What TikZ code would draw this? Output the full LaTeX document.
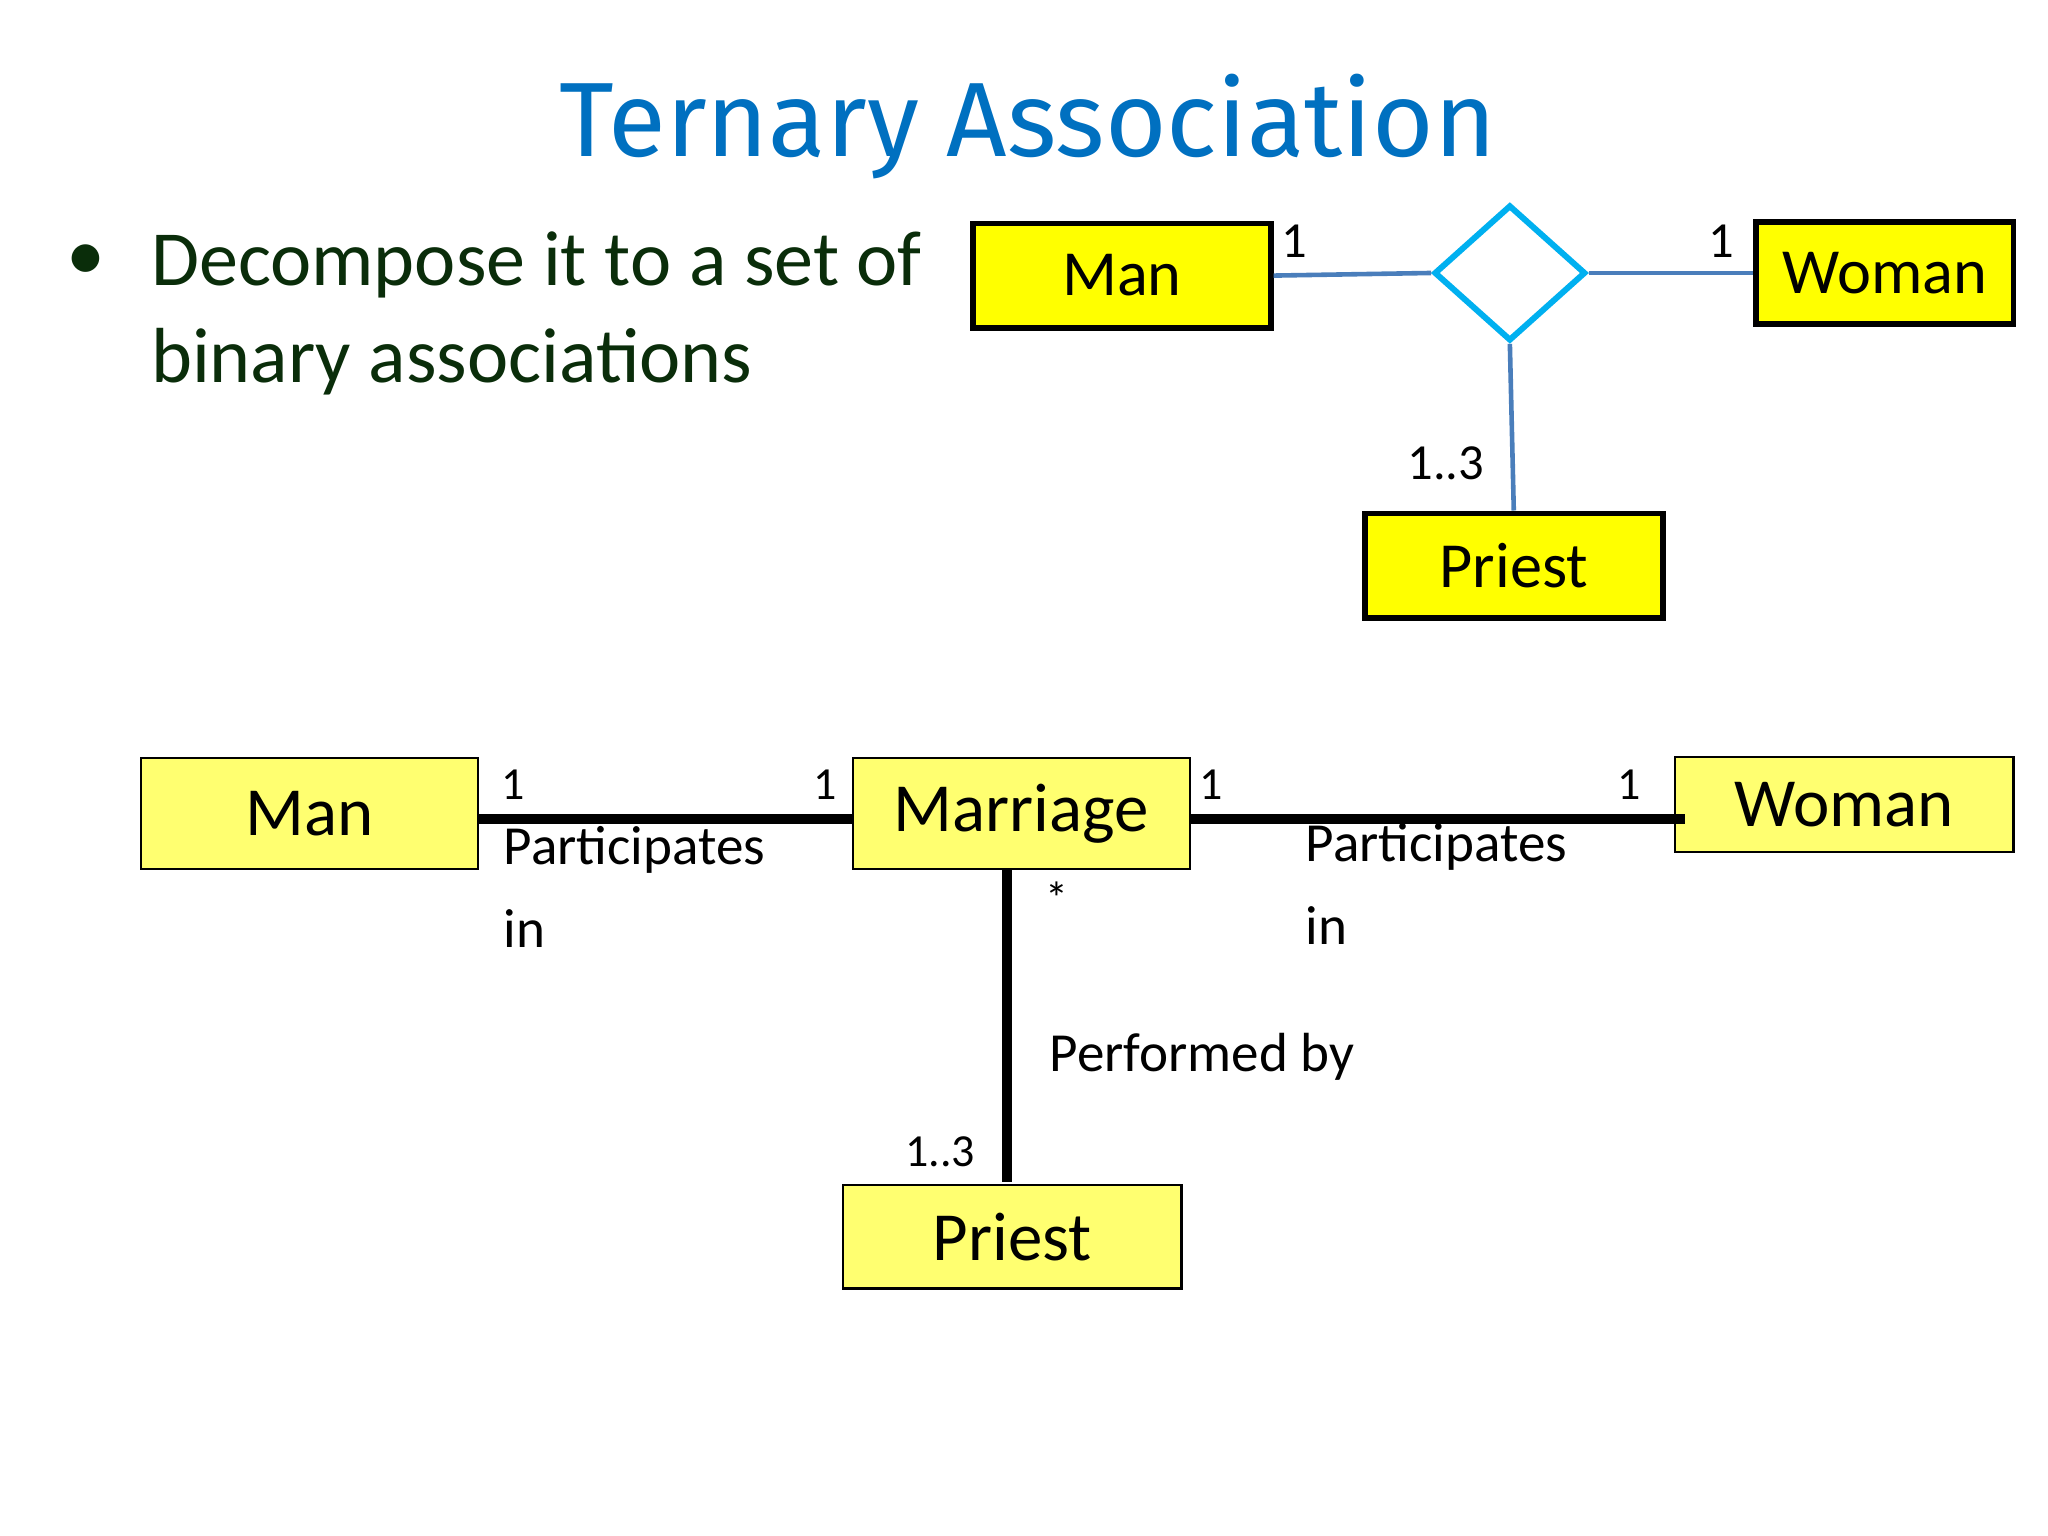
\documentclass[tikz,border=0pt]{standalone}
\usepackage{fontspec}
\setmainfont{Carlito}
\newfontfamily\titlefont{Fira Sans}
\usetikzlibrary{shapes.geometric}
\definecolor{titleblue}{RGB}{0,112,192}
\definecolor{txtgreen}{RGB}{10,45,10}
\definecolor{ybright}{RGB}{255,255,0}
\definecolor{ylight}{RGB}{255,255,112}
\definecolor{steel}{RGB}{74,126,187}
\definecolor{cyanish}{RGB}{0,176,240}
\begin{document}
\begin{tikzpicture}[x=0.01cm,y=-0.01cm,
  topbox/.style={draw=black,line width=1.2pt,fill=ybright,minimum height=0.8cm,inner sep=0pt,font=\fontsize{14}{16}\selectfont},
  botbox/.style={draw=black,line width=0.5pt,fill=ylight,minimum height=0.82cm,inner sep=0pt,font=\fontsize{15}{17}\selectfont},
  lab/.style={font=\fontsize{10}{12}\selectfont,inner sep=0pt},
  desc/.style={font=\fontsize{12}{18}\selectfont,inner sep=0pt,align=left,anchor=north west},
  tline/.style={draw=steel,line width=1pt},
  bline/.style={draw=black,line width=2pt}]
\fill[white] (0,0) rectangle (1568,1176);
\useasboundingbox (0,0) rectangle (1568,1176);
\node[font=\titlefont\fontsize{23}{26}\selectfont,text=titleblue] (title) at (787,97) {Ternary Association};
\node[text=txtgreen,font=\fontsize{17}{20}\selectfont] (bul) at (66,201) {\textbullet};
\node[text=txtgreen,font=\fontsize{17}{21}\selectfont,anchor=west,align=left,inner sep=0pt] (btxt) at (115,240) {Decompose it to a set of\\binary associations};
% top
\node[topbox,minimum width=2.28cm] (man1) at (859,211) {Man};
\node[topbox,minimum width=1.97cm,minimum height=0.78cm] (wom1) at (1443,209) {Woman};
\node[topbox,minimum width=2.28cm] (pri1) at (1159,433) {Priest};
\node[diamond,draw=cyanish,line width=1.3pt,fill=white,minimum width=1.16cm,minimum height=1.04cm,inner sep=0pt,aspect=1.1] (dia) at (1156,209) {};
\draw[tline] (man1.east) -- (dia.west);
\draw[tline] (dia.east) -- (wom1.west);
\draw[tline] (dia.south) -- (pri1.north);
\node[lab,font=\fontsize{11}{12}\selectfont] (l1) at (991,185) {1};
\node[lab,font=\fontsize{11}{12}\selectfont] (l2) at (1318,185) {1};
\node[lab,font=\fontsize{11}{12}\selectfont] (l3) at (1107,355) {1..3};
% bottom
\node[botbox,minimum width=2.58cm,minimum height=0.85cm] (man2) at (237,623) {Man};
\node[botbox,minimum width=2.58cm,minimum height=0.85cm] (mar) at (782,623) {Marriage};
\node[botbox,minimum width=2.59cm,minimum height=0.73cm] (wom2) at (1412,616) {Woman};
\node[botbox,minimum width=2.59cm,minimum height=0.79cm] (pri2) at (775,947) {Priest};
\coordinate (mw) at (911,627);
\coordinate (wm) at (1290,627);
\coordinate (mb) at (771,666);
\coordinate (pt) at (771,905);
\draw[bline] (man2.east |- 0,627) -- (mar.west |- 0,627);
\draw[bline] (mw) -- (wm);
\draw[bline] (mb) -- (pt);
\node[lab] (b1) at (393,601) {1};
\node[lab] (b2) at (632,601) {1};
\node[lab] (b3) at (927,601) {1};
\node[lab] (b4) at (1247,601) {1};
\node[lab] (b5) at (809,688) {*};
\node[lab] (b6) at (720,882) {1..3};
\node[desc] (p1) at (385,632) {Participates\\in};
\node[desc] (p2) at (999,630) {Participates\\in};
\node[desc] (p3) at (803,790) {Performed by};
\end{tikzpicture}
\end{document}
